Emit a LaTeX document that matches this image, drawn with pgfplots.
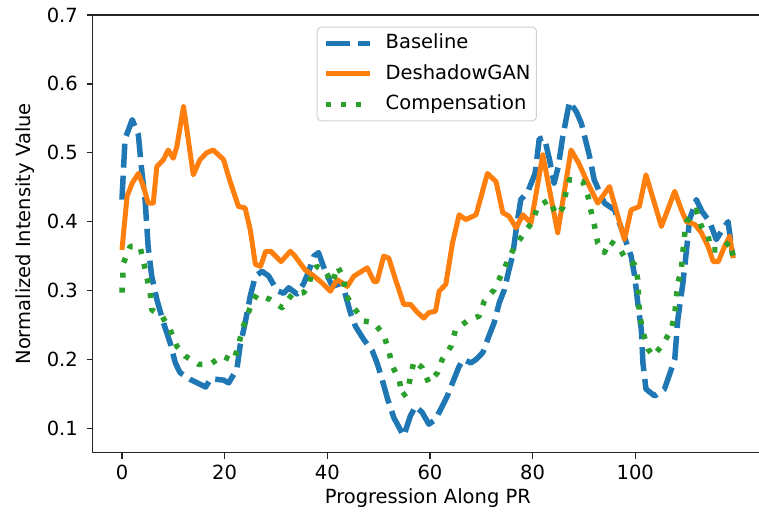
\documentclass[border=0pt]{standalone}
\usepackage{fontspec}
\setmainfont{DejaVu Sans}
\usepackage{pgfplots}
\pgfplotsset{compat=1.18}
\definecolor{mblue}{HTML}{1F77B4}
\definecolor{morange}{HTML}{FF7F0E}
\definecolor{mgreen}{HTML}{2CA02C}
\newcommand{\chartfont}{\fontsize{19.5bp}{23bp}\selectfont}
\begin{document}
\chartfont
\begin{tikzpicture}
\begin{axis}[
  at={(92.7bp,-15bp)}, anchor=north west,
  scale only axis, width=670.3bp, height=437.7bp,
  xmin=-5.7, xmax=124.9, ymin=0.0646, ymax=0.7,
  xtick={0,20,40,60,80,100},
  ytick={0.1,0.2,0.3,0.4,0.5,0.6,0.7},
  /pgf/number format/assume math mode=true,
  tick label style={font=\chartfont},
  xticklabel style={anchor=north, inner sep=0pt, yshift=-6bp},
  yticklabel style={anchor=east, inner sep=0pt, xshift=-8.7bp,
    /pgf/number format/fixed, /pgf/number format/fixed zerofill,
    /pgf/number format/precision=1},
  tick align=outside, major tick length=6bp,
  xtick pos=bottom, ytick pos=left,
  tick style={line width=1.3bp, black!85},
  axis line style={line width=1.4bp, black!85},
  xlabel={Progression Along PR},
  ylabel={Normalized Intensity Value},
  label style={font=\chartfont},
  xlabel style={at={(axis description cs:0.5,-0.115)}, anchor=base, inner sep=0pt},
  ylabel style={at={(axis description cs:-0.0935,0.5)}, anchor=base, inner sep=0pt},
  legend style={at={(0.3342,0.9733)}, anchor=north west, draw=black!18, line width=1bp,
    rounded corners=4bp, fill=white, inner xsep=6bp, inner ysep=7bp, row sep=12.5bp,
    font=\chartfont, nodes={inner sep=0pt, text height=14.2bp, text depth=4bp},
    /tikz/every odd column/.append style={column sep=13bp}},
  legend cell align=left,
  legend image code/.code={\draw[#1] (0bp,0bp) -- (44bp,0bp);},
  line join=round,
]
\addplot[mblue, line width=5.5bp, dash pattern=on 24bp off 8bp] coordinates {
(0,0.432) (0.6,0.520) (2,0.548) (3.2,0.526) (3.8,0.478) (4.5,0.432) (5.1,0.364)
(5.8,0.321) (6.8,0.287) (8.1,0.253) (9.4,0.224) (10.4,0.195) (11.3,0.181)
(13.3,0.171) (15.2,0.164) (16.3,0.160) (17.3,0.172) (19.8,0.170) (20.8,0.166)
(22.4,0.186) (23,0.219) (24,0.253) (25,0.292) (26,0.321) (27.3,0.328)
(28.6,0.321) (30.2,0.300) (31.5,0.296) (32.5,0.304) (34.1,0.295) (35.4,0.310)
(36.4,0.328) (37.4,0.350) (38.3,0.355) (39.6,0.328) (41,0.306) (42.9,0.311)
(44.5,0.268) (45.5,0.248) (47.1,0.229) (48.8,0.212) (49.7,0.195) (50.7,0.171)
(51.7,0.144) (53,0.115) (54.9,0.089) (56.2,0.118) (57.2,0.132) (58.5,0.123)
(59.8,0.106) (61.1,0.113) (62.4,0.132) (63.4,0.147) (64.4,0.166) (65.7,0.190)
(66.5,0.200) (68,0.195) (69,0.200) (70.3,0.210) (71.5,0.234) (72.5,0.253)
(73.5,0.282) (74.5,0.301) (75.4,0.330) (76.1,0.350) (76.8,0.388) (77.7,0.432)
(79,0.442) (80.5,0.470) (81.3,0.520) (82.3,0.522) (83.3,0.490) (84.2,0.456)
(85,0.480) (85.9,0.524) (87.2,0.574) (88.5,0.560) (89.5,0.543) (91.1,0.495)
(92,0.461) (94,0.427) (96,0.417) (97.6,0.384) (99.2,0.350) (99.9,0.321)
(100.5,0.282) (101.2,0.243) (101.5,0.195) (102.1,0.157) (103.8,0.147)
(105.7,0.157) (107.7,0.200) (108.3,0.258) (109.3,0.311) (110,0.359)
(110.6,0.403) (111.9,0.432) (113,0.415) (114.5,0.400) (115.8,0.374)
(116.8,0.386) (118.1,0.400) (119,0.350)
};
\addlegendentry{Baseline}
\addplot[morange, line width=5bp] coordinates {
(0,0.359) (1,0.437) (2,0.456) (3.2,0.470) (4.2,0.451) (5.1,0.427) (6.1,0.427)
(6.8,0.480) (8.1,0.490) (9,0.504) (10,0.492) (10.7,0.509) (12,0.567)
(13.9,0.468) (15.2,0.490) (16.5,0.500) (17.8,0.504) (19.8,0.490) (21,0.460)
(22.7,0.422) (24,0.420) (25,0.388) (26,0.338) (27,0.335) (28,0.357) (29,0.357)
(31,0.342) (32.8,0.357) (33.5,0.352) (35.7,0.330) (37.4,0.321) (39,0.311)
(40.6,0.299) (41.9,0.316) (43.9,0.306) (45.2,0.321) (47.8,0.333) (49.1,0.313)
(49.7,0.313) (51,0.350) (52,0.347) (53.3,0.316) (54.9,0.280) (56.2,0.280)
(57.6,0.268) (58.8,0.260) (59.8,0.268) (61.1,0.270) (61.8,0.299) (63.1,0.309)
(64.4,0.369) (65.7,0.410) (67,0.403) (69,0.410) (71.2,0.470) (72.9,0.458)
(74.2,0.413) (75.4,0.408) (76.8,0.391) (78.1,0.410) (79.7,0.398) (82,0.497)
(84.9,0.384) (87.5,0.504) (89,0.485) (90.5,0.460) (92.7,0.427) (95,0.451)
(97.9,0.374) (99.2,0.417) (100.8,0.422) (102.1,0.468) (105.1,0.393)
(107.7,0.444) (109,0.417) (110,0.400) (111.6,0.396) (112.9,0.384)
(114.2,0.364) (115.2,0.342) (116.2,0.342) (117.4,0.364) (118.4,0.379)
(119.1,0.347)
};
\addlegendentry{DeshadowGAN}
\addplot[mgreen, line width=5.5bp, dash pattern=on 5bp off 10bp] coordinates {
(0,0.297) (0.3,0.340) (1.6,0.364) (3.5,0.364) (4.2,0.342) (4.8,0.321)
(5.5,0.297) (5.8,0.272) (7.8,0.263) (9.4,0.243) (10.7,0.219) (12.3,0.205)
(14.9,0.193) (17.2,0.193) (19.5,0.205) (21.7,0.198) (22.7,0.219) (23.4,0.243)
(24.4,0.263) (25.3,0.282) (26.3,0.294) (28.9,0.287) (31.2,0.275) (33.1,0.294)
(35.4,0.297) (36.4,0.306) (37,0.328) (38,0.335) (39.6,0.328) (41,0.311)
(42,0.335) (43.2,0.318) (43.6,0.294) (45.2,0.275) (47.1,0.256) (49.1,0.253)
(51,0.236) (52,0.212) (52.7,0.190) (54,0.171) (54.6,0.147) (55.6,0.152)
(56.25,0.176) (56.9,0.198) (58.5,0.188) (59.8,0.166) (61.5,0.181) (62.4,0.200)
(64.1,0.219) (65,0.243) (67.3,0.256) (69.6,0.263) (70.6,0.285) (72.5,0.301)
(73.8,0.321) (75.1,0.342) (76.4,0.362) (78.4,0.384) (80,0.400) (81,0.422)
(83.3,0.432) (84.6,0.410) (85.9,0.420) (86.5,0.442) (87.2,0.461) (89.8,0.458)
(90.8,0.437) (91.4,0.415) (92.1,0.393) (92.7,0.369) (94,0.355) (95,0.372)
(96.9,0.362) (98.2,0.345) (99.9,0.338) (100.5,0.316) (100.8,0.268)
(101.5,0.240) (102.5,0.215) (103.5,0.205) (105.4,0.222) (107,0.243)
(107.7,0.265) (108,0.289) (108.3,0.309) (109,0.333) (109.3,0.357)
(109.6,0.379) (110,0.400) (111.9,0.417) (112.9,0.393) (114.2,0.379)
(114.8,0.359) (116.8,0.359) (118.4,0.371) (119.1,0.350)
};
\addlegendentry{Compensation}
\end{axis}
\pgfresetboundingbox
\useasboundingbox (0bp,0bp) rectangle (759bp,-520bp);
\end{tikzpicture}
\end{document}
